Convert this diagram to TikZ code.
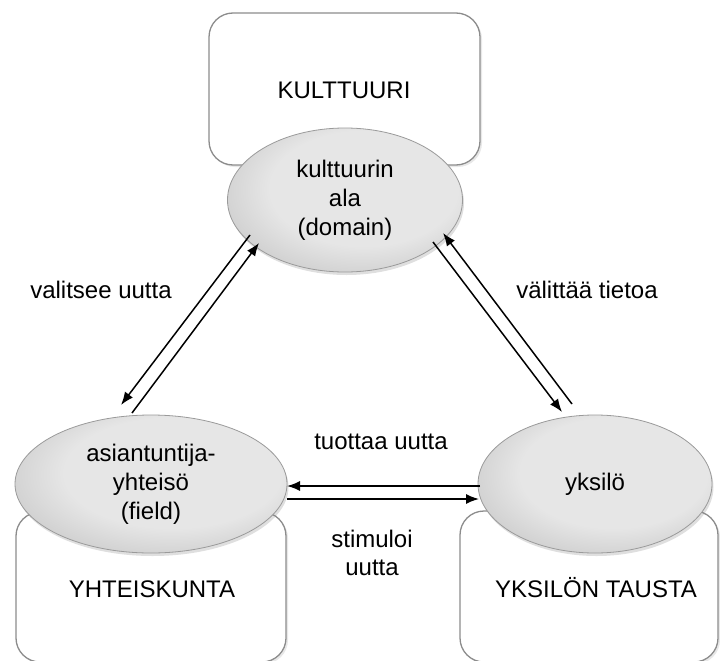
\documentclass[tikz,border=0pt]{standalone}
\usepackage{fontspec}
\setmainfont{Liberation Sans}
\usetikzlibrary{shapes.geometric,arrows.meta,shadows}
\definecolor{ellin}{HTML}{E6E6E6}
\definecolor{ellmid}{HTML}{D0D0D0}
\definecolor{ellout}{HTML}{A4A4A4}
\definecolor{ellborder}{HTML}{9A9A9A}
\definecolor{boxborder}{HTML}{8C8C8C}
\pgfdeclareradialshading{ellshade}{\pgfpoint{6bp}{6bp}}{color(0bp)=(ellin); color(20bp)=(ellin); color(30bp)=(ellmid); color(37bp)=(ellout); color(60bp)=(ellout)}
\tikzset{
  lbl/.style={font=\fontsize{24}{29}\selectfont, inner sep=0pt, align=center},
  bgbox/.style={draw=boxborder, line width=1.3pt, fill=white, rounded corners=24pt,
    drop shadow={opacity=0.18, shadow xshift=2pt, shadow yshift=-2pt}},
  oval/.style={ellipse, draw=ellborder, line width=0.8pt, shading=ellshade, inner sep=0pt,
    font=\fontsize{24}{29}\selectfont, align=center,
    drop shadow={opacity=0.25, shadow xshift=1.5pt, shadow yshift=-3pt}},
  flow/.style={line width=1.5pt, -{Latex[length=13pt,width=10pt]}}
}
\begin{document}
\begin{tikzpicture}[x=1pt,y=-1pt]
\useasboundingbox (0,0) rectangle (720,661);
% background boxes
\path[bgbox] (209,13) rectangle (480,165);
\path[bgbox] (16,512) rectangle (286,662);
\path[bgbox] (460,511) rectangle (718,662);
\node[lbl, anchor=base] (kult) at (344,99) {KULTTUURI};
\node[lbl, anchor=base] (yht) at (152,597) {YHTEISKUNTA};
\node[lbl, anchor=base] (ykt) at (596,597) {YKSILÖN TAUSTA};
% ellipses
\node[oval, minimum width=235pt, minimum height=144pt] (dom) at (345,200) {kulttuurin\\ala\\(domain)};
\node[oval, minimum width=272pt, minimum height=138pt] (field) at (151,484) {asiantuntija-\\yhteisö\\(field)};
\node[oval, minimum width=234pt, minimum height=138pt] (ind) at (595,484) {yksilö};
% arrow endpoints
\coordinate (a1s) at (250,235); \coordinate (a1e) at (121,405);
\coordinate (a2s) at (132,413); \coordinate (a2e) at (259,243);
\coordinate (b1s) at (433,242); \coordinate (b1e) at (562,412);
\coordinate (b2s) at (572,404); \coordinate (b2e) at (443,233);
\coordinate (c1s) at (480,486); \coordinate (c1e) at (287,486);
\coordinate (c2s) at (287,499); \coordinate (c2e) at (479,499);
\draw[flow] (a1s) -- (a1e);
\draw[flow] (a2s) -- (a2e);
\draw[flow] (b1s) -- (b1e);
\draw[flow] (b2s) -- (b2e);
\draw[flow] (c1s) -- (c1e);
\draw[flow] (c2s) -- (c2e);
% labels
\node[lbl, anchor=base] (val) at (101,298) {valitsee uutta};
\node[lbl, anchor=base] (vti) at (587,298) {välittää tietoa};
\node[lbl, anchor=base] (tuo) at (381,449) {tuottaa uutta};
\node[lbl, anchor=base] (sti) at (372,547) {stimuloi};
\node[lbl, anchor=base] (uut) at (372,575) {uutta};
\end{tikzpicture}
\end{document}
